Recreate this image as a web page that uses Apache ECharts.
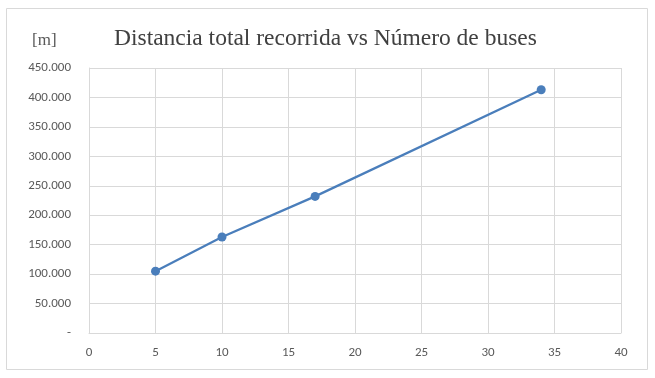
<!DOCTYPE html>
<html>
<head>
<meta charset="utf-8">
<script src="https://cdn.jsdelivr.net/npm/echarts@6/dist/echarts.min.js"></script>
<style>
  html, body { margin: 0; padding: 0; background: #fff; }
  #chart { width: 655px; height: 378px; }
</style>
</head>
<body>
<div id="chart"></div>
<script>
// datos
const buses = [5, 10, 17, 34]
const distancia = [105000, 163000, 232000, 413000]
const xTicks = [0, 5, 10, 15, 20, 25, 30, 35, 40]
const yTicks = [0, 50000, 100000, 150000, 200000, 250000, 300000, 350000, 400000, 450000]

const chart = echarts.init(document.getElementById('chart'))

function fmtMiles(v) {
  if (v === 0) return '-'
  return String(v).replace(/\B(?=(\d{3})+(?!\d))/g, '.')
}

chart.setOption({
  animation: false,
  graphic: [{
    type: 'rect',
    shape: { x: 6.5, y: 8.5, width: 641, height: 361 },
    style: { fill: 'none', stroke: '#d9d9d9', lineWidth: 1 }
  }, {
    type: 'text',
    left: 32,
    top: 32,
    style: { text: '[m]', font: '17px "Liberation Serif", "Times New Roman", serif', fill: '#595959' }
  }],
  title: {
    text: 'Distancia total recorrida vs Número de buses',
    left: 109,
    top: 22,
    textStyle: {
      fontFamily: '"Liberation Serif", "Times New Roman", serif',
      fontWeight: 'normal',
      fontSize: 23.5,
      color: '#404040'
    }
  },
  grid: { left: 89, right: 34, top: 68, bottom: 45, containLabel: false },
  xAxis: {
    type: 'value',
    min: xTicks[0],
    max: xTicks[xTicks.length - 1],
    interval: 5,
    axisLine: { show: true, lineStyle: { color: '#d9d9d9' } },
    axisTick: { show: false },
    axisLabel: { color: '#595959', fontSize: 13, margin: 13, fontFamily: 'Carlito, "Open Sans", sans-serif' },
    splitLine: { show: true, lineStyle: { color: '#d9d9d9' } }
  },
  yAxis: {
    type: 'value',
    min: yTicks[0],
    max: yTicks[yTicks.length - 1],
    interval: 50000,
    axisLine: { show: true, lineStyle: { color: '#d9d9d9' } },
    axisTick: { show: false },
    axisLabel: { color: '#595959', fontSize: 13, margin: 18, formatter: fmtMiles, fontFamily: 'Carlito, "Open Sans", sans-serif' },
    splitLine: { show: true, lineStyle: { color: '#d9d9d9' } }
  },
  series: [{
    type: 'line',
    data: buses.map((b, i) => [b, distancia[i]]),
    symbol: 'circle',
    symbolSize: 9,
    itemStyle: { color: '#4a7ebb' },
    lineStyle: { color: '#4a7ebb', width: 2.25 }
  }]
})
</script>
</body>
</html>
